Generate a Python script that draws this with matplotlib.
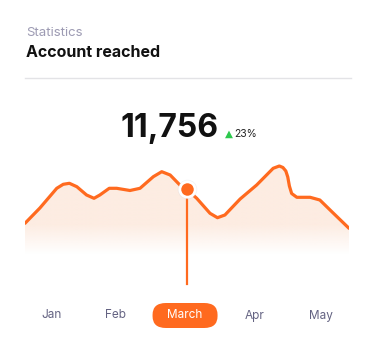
import numpy as np
import matplotlib
matplotlib.use("Agg")
import matplotlib.pyplot as plt
from matplotlib.patches import FancyBboxPatch

plt.rcParams['font.family'] = ['Inter', 'DejaVu Sans']

# curve (x: 0-100 across the chart, y: reach level)
x_vals = [0, 4.6, 9.8, 11.8, 13.7, 16, 19, 21.3, 23.1, 26, 28.3, 32.4, 35.5,
          39.6, 42.2, 44.8, 47.8, 49.9, 53, 57.1, 59.4, 61.7, 66.4, 71.5,
          76.6, 78.5, 79.6, 80.5, 81.1, 81.6, 82.3, 83.9, 88, 91, 94.7, 100]
y_vals = [66.7, 82, 101.7, 105.7, 106.7, 103.3, 95, 91.7, 95, 101.7, 101.7,
          99.5, 101.7, 113.3, 118.3, 115, 105, 100.7, 91.7, 76.7, 72.3, 75,
          91, 105, 121.7, 124, 122.5, 119, 113, 104, 96.5, 92.7, 92.7, 90,
          78.3, 61.7]

months = ['Jan', 'Feb', 'March', 'Apr', 'May']
month_pos = [8.3, 27.8, 49.4, 71, 91.4]
selected = 2
marker_x = 49.9
marker_y = 100.7

total = '11,756'
change = '23%'

orange = '#ff6a1f'
W, H = 376, 353

fig = plt.figure(figsize=(W / 100, H / 100), dpi=100)
fig.patch.set_facecolor('white')

def fx(px):
    return px / W

def fy(py):
    return 1 - py / H

# header
fig.text(fx(26), fy(36), 'Statistics', fontsize=9.5, color='#9d9bb3')
fig.text(fx(26), fy(57), 'Account reached', fontsize=11.5, fontweight='bold',
         color='#111111')
fig.add_artist(plt.Line2D([fx(25), fx(351)], [fy(78), fy(78)],
                          color='#e3e3e6', lw=1))

# big number
fig.text(fx(170), fy(137), total, fontsize=23, fontweight='bold',
         color='#111111', ha='center', va='baseline')
fig.text(fx(228.5), fy(136.5), '\u25b2', fontsize=7.5, color='#2dc84d',
         ha='center', va='baseline', family=['DejaVu Sans'])
fig.text(fx(234), fy(137), change, fontsize=7.5, color='#222222',
         va='baseline')

# chart area
ax = fig.add_axes([fx(25), fy(290), fx(349) - fx(25), (290 - 150) / H])
ax.set_xlim(0, 100)
ax.set_ylim(0, 140)
ax.axis('off')

poly = ax.fill_between(x_vals, y_vals, 0, facecolor='none', edgecolor='none')
grad = np.zeros((200, 1, 4))
yy = np.linspace(125, 0, 200)
grad[:, 0, :3] = np.array([253, 236, 226]) / 255
grad[:, 0, 3] = np.clip((yy - 36) / 30, 0, 1)
img = ax.imshow(grad, extent=[0, 100, 0, 125], aspect='auto', zorder=1)
img.set_clip_path(poly.get_paths()[0], transform=ax.transData)

ax.plot(x_vals, y_vals, color=orange, lw=2.3, solid_joinstyle='round',
        solid_capstyle='round', zorder=3)
ax.plot([marker_x, marker_x], [6, marker_y], color=orange, lw=1.6, zorder=3)
ax.plot(marker_x, marker_y, 'o', ms=14, color='#d8d8e0', alpha=0.35,
        markeredgewidth=0, zorder=4)
ax.plot(marker_x, marker_y, 'o', ms=11, color=orange, markeredgecolor='white',
        markeredgewidth=2, zorder=5)

# month labels
for i, (m, p) in enumerate(zip(months, month_pos)):
    if i == selected:
        px = 25 + p * 3.24
        pill = FancyBboxPatch((fx(px - 32.5), fy(328)), 65 / W, 25 / H,
                              boxstyle='round,pad=0,rounding_size=0.0355',
                              transform=fig.transFigure, facecolor=orange,
                              edgecolor='none', mutation_aspect=H / W)
        fig.add_artist(pill)
        fig.text(fx(px), fy(315.5), m, fontsize=8.5, color='white',
                 ha='center', va='center')
    else:
        ax.text(p, -25.5, m, fontsize=8.5, color='#646382', ha='center',
                va='center', clip_on=False)

fig.savefig('out.png', dpi=100, facecolor='white')
